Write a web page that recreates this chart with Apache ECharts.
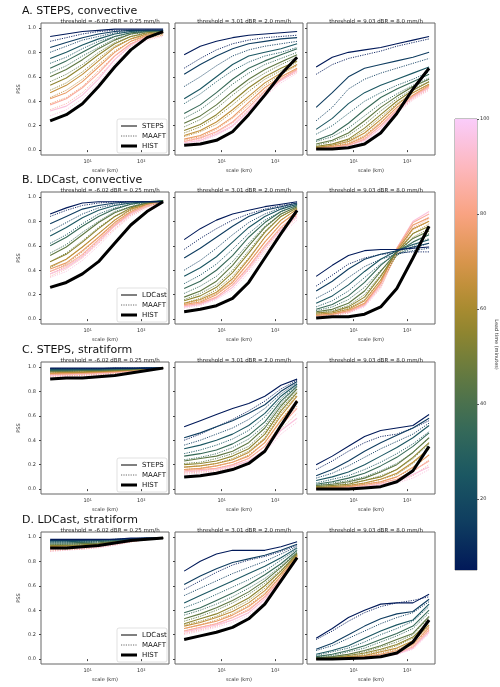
<!DOCTYPE html>
<html>
<head>
<meta charset="utf-8">
<script src="https://cdn.jsdelivr.net/npm/echarts@6/dist/echarts.min.js"></script>
<style>html,body{margin:0;padding:0;background:#fff}#main{width:500px;height:687px}</style>
</head>
<body>
<div id="main"></div>
<script>
var scales = [2, 4, 8, 16, 32, 64, 128, 256];
var leadTimes = [5, 15, 25, 35, 45, 55, 65, 75, 85, 95];
var rowTitles = ['A. STEPS, convective', 'B. LDCast, convective', 'C. STEPS, stratiform', 'D. LDCast, stratiform'];
var rowModels = ['STEPS', 'LDCast', 'STEPS', 'LDCast'];
var colTitles = ['threshold = -6.02 dBR = 0.25 mm/h', 'threshold = 3.01 dBR = 2.0 mm/h', 'threshold = 9.03 dBR = 8.0 mm/h'];
var cbarTicks = [20, 40, 60, 80, 100];

// ---- A. STEPS convective
var A1_model = [
 [0.93,0.95,0.97,0.98,0.99,0.99,0.99,0.99],[0.84,0.88,0.92,0.95,0.97,0.98,0.98,0.98],
 [0.75,0.80,0.86,0.91,0.95,0.97,0.98,0.98],[0.67,0.73,0.80,0.87,0.93,0.96,0.97,0.98],
 [0.60,0.66,0.74,0.83,0.90,0.95,0.97,0.97],[0.53,0.59,0.68,0.78,0.87,0.93,0.96,0.97],
 [0.47,0.53,0.62,0.73,0.84,0.91,0.95,0.96],[0.42,0.47,0.56,0.68,0.80,0.89,0.94,0.96],
 [0.37,0.42,0.51,0.63,0.77,0.87,0.93,0.96],[0.32,0.36,0.45,0.58,0.74,0.86,0.93,0.96]];
var A1_maaft = [
 [0.89,0.92,0.95,0.97,0.98,0.98,0.98,0.98],[0.80,0.85,0.90,0.93,0.96,0.97,0.97,0.97],
 [0.71,0.76,0.83,0.89,0.93,0.96,0.97,0.97],[0.63,0.69,0.77,0.84,0.91,0.95,0.96,0.97],
 [0.56,0.62,0.70,0.80,0.88,0.93,0.95,0.96],[0.49,0.55,0.64,0.75,0.85,0.91,0.94,0.95],
 [0.43,0.49,0.58,0.70,0.81,0.89,0.93,0.95],[0.38,0.43,0.52,0.65,0.77,0.87,0.92,0.94],
 [0.33,0.38,0.47,0.60,0.74,0.85,0.91,0.94],[0.28,0.33,0.42,0.55,0.71,0.83,0.90,0.93]];
var A1_hist = [0.24,0.29,0.38,0.52,0.68,0.82,0.92,0.97];
var A2_model = [
 [0.78,0.85,0.89,0.92,0.94,0.95,0.96,0.97],[0.62,0.70,0.77,0.83,0.87,0.89,0.91,0.92],
 [0.42,0.50,0.60,0.70,0.77,0.80,0.83,0.87],[0.30,0.37,0.47,0.58,0.67,0.73,0.78,0.83],
 [0.22,0.28,0.37,0.48,0.58,0.66,0.72,0.78],[0.16,0.21,0.29,0.40,0.51,0.60,0.67,0.73],
 [0.12,0.16,0.23,0.33,0.44,0.55,0.63,0.70],[0.09,0.12,0.18,0.27,0.39,0.51,0.60,0.67],
 [0.07,0.10,0.15,0.23,0.35,0.48,0.58,0.66],[0.06,0.08,0.13,0.20,0.32,0.46,0.57,0.65]];
var A2_maaft = [
 [0.67,0.75,0.82,0.87,0.90,0.92,0.93,0.94],[0.52,0.60,0.69,0.77,0.82,0.85,0.87,0.89],
 [0.38,0.46,0.56,0.65,0.72,0.77,0.80,0.84],[0.26,0.33,0.43,0.54,0.63,0.70,0.75,0.80],
 [0.19,0.25,0.34,0.45,0.55,0.63,0.70,0.76],[0.14,0.19,0.27,0.37,0.48,0.58,0.65,0.72],
 [0.11,0.15,0.21,0.31,0.42,0.53,0.62,0.69],[0.08,0.11,0.17,0.26,0.37,0.49,0.59,0.66],
 [0.07,0.09,0.14,0.22,0.33,0.46,0.57,0.64],[0.05,0.07,0.12,0.19,0.30,0.44,0.55,0.63]];
var A2_hist = [0.04,0.05,0.08,0.15,0.29,0.45,0.62,0.76];
var A3_model = [
 [0.68,0.76,0.80,0.82,0.84,0.87,0.90,0.93],[0.35,0.47,0.60,0.67,0.70,0.73,0.76,0.80],
 [0.17,0.26,0.38,0.47,0.53,0.58,0.63,0.68],[0.08,0.13,0.22,0.33,0.43,0.50,0.56,0.62],
 [0.05,0.08,0.14,0.24,0.35,0.44,0.52,0.58],[0.03,0.05,0.09,0.18,0.29,0.40,0.49,0.56],
 [0.02,0.04,0.07,0.14,0.25,0.37,0.47,0.54],[0.02,0.03,0.05,0.11,0.22,0.35,0.45,0.53],
 [0.01,0.02,0.04,0.09,0.20,0.33,0.44,0.52],[0.01,0.02,0.04,0.08,0.18,0.32,0.43,0.51]];
var A3_maaft = [
 [0.62,0.70,0.75,0.78,0.81,0.85,0.88,0.91],[0.24,0.35,0.50,0.58,0.63,0.67,0.71,0.75],
 [0.13,0.20,0.30,0.40,0.47,0.53,0.58,0.64],[0.07,0.11,0.18,0.28,0.38,0.46,0.53,0.59],
 [0.04,0.07,0.12,0.21,0.32,0.42,0.50,0.56],[0.03,0.05,0.08,0.16,0.27,0.38,0.47,0.54],
 [0.02,0.03,0.06,0.12,0.23,0.35,0.45,0.52],[0.01,0.03,0.05,0.10,0.20,0.33,0.43,0.51],
 [0.01,0.02,0.04,0.08,0.18,0.31,0.42,0.50],[0.01,0.02,0.03,0.07,0.16,0.30,0.41,0.49]];
var A3_hist = [0.01,0.01,0.02,0.05,0.14,0.30,0.50,0.67];

// ---- B. LDCast convective
var B1_model = [
 [0.86,0.91,0.95,0.96,0.96,0.96,0.96,0.96],[0.78,0.84,0.90,0.93,0.95,0.96,0.96,0.96],
 [0.68,0.75,0.83,0.89,0.93,0.95,0.96,0.96],[0.60,0.67,0.76,0.84,0.90,0.94,0.96,0.97],
 [0.52,0.59,0.69,0.79,0.87,0.92,0.95,0.97],[0.47,0.53,0.63,0.74,0.84,0.91,0.95,0.97],
 [0.43,0.49,0.59,0.70,0.81,0.90,0.94,0.97],[0.41,0.46,0.56,0.67,0.79,0.88,0.94,0.97],
 [0.39,0.44,0.53,0.65,0.77,0.87,0.93,0.97],[0.37,0.42,0.51,0.63,0.76,0.86,0.93,0.97]];
var B1_maaft = [
 [0.84,0.89,0.93,0.95,0.96,0.96,0.96,0.96],[0.72,0.79,0.86,0.91,0.94,0.95,0.96,0.96],
 [0.62,0.69,0.78,0.86,0.91,0.94,0.95,0.96],[0.54,0.61,0.71,0.80,0.88,0.92,0.95,0.96],
 [0.47,0.54,0.64,0.75,0.84,0.90,0.94,0.96],[0.42,0.49,0.59,0.70,0.81,0.89,0.93,0.96],
 [0.39,0.45,0.55,0.67,0.78,0.87,0.93,0.96],[0.37,0.43,0.52,0.64,0.76,0.86,0.92,0.96],
 [0.35,0.41,0.50,0.62,0.74,0.85,0.92,0.96],[0.34,0.39,0.48,0.60,0.73,0.84,0.91,0.96]];
var B1_hist = [0.26,0.30,0.37,0.47,0.62,0.77,0.88,0.96];
var B2_model = [
 [0.65,0.74,0.81,0.86,0.89,0.92,0.94,0.96],[0.50,0.58,0.67,0.76,0.84,0.89,0.92,0.95],
 [0.35,0.42,0.51,0.63,0.75,0.84,0.90,0.94],[0.25,0.31,0.40,0.52,0.67,0.79,0.88,0.93],
 [0.18,0.23,0.31,0.44,0.60,0.75,0.86,0.92],[0.15,0.19,0.26,0.38,0.54,0.71,0.84,0.91],
 [0.13,0.16,0.22,0.33,0.49,0.67,0.81,0.90],[0.12,0.14,0.20,0.30,0.46,0.63,0.78,0.88],
 [0.11,0.13,0.18,0.28,0.43,0.60,0.75,0.86],[0.10,0.12,0.17,0.26,0.41,0.58,0.73,0.84]];
var B2_maaft = [
 [0.57,0.66,0.74,0.81,0.86,0.90,0.93,0.95],[0.40,0.48,0.58,0.69,0.79,0.86,0.91,0.94],
 [0.29,0.36,0.45,0.57,0.70,0.81,0.88,0.93],[0.21,0.27,0.35,0.47,0.62,0.76,0.86,0.92],
 [0.16,0.21,0.28,0.40,0.56,0.72,0.84,0.91],[0.13,0.17,0.24,0.35,0.50,0.67,0.81,0.90],
 [0.12,0.15,0.21,0.31,0.46,0.63,0.78,0.88],[0.11,0.13,0.18,0.28,0.42,0.59,0.74,0.85],
 [0.10,0.12,0.17,0.26,0.40,0.56,0.71,0.83],[0.09,0.11,0.16,0.24,0.38,0.54,0.69,0.81]];
var B2_hist = [0.06,0.08,0.11,0.17,0.30,0.50,0.70,0.89];
var B3_model = [
 [0.35,0.44,0.52,0.56,0.57,0.57,0.58,0.59],[0.23,0.31,0.41,0.49,0.53,0.56,0.59,0.62],
 [0.13,0.19,0.28,0.39,0.49,0.56,0.61,0.65],[0.08,0.12,0.19,0.30,0.44,0.55,0.63,0.69],
 [0.06,0.08,0.13,0.23,0.39,0.55,0.66,0.72],[0.05,0.06,0.10,0.18,0.35,0.55,0.70,0.76],
 [0.04,0.05,0.08,0.15,0.32,0.56,0.74,0.80],[0.03,0.04,0.07,0.13,0.30,0.57,0.77,0.83],
 [0.03,0.04,0.06,0.12,0.29,0.58,0.79,0.86],[0.03,0.04,0.06,0.11,0.28,0.58,0.80,0.88]];
var B3_maaft = [
 [0.27,0.36,0.45,0.50,0.53,0.54,0.55,0.55],[0.17,0.24,0.34,0.43,0.49,0.53,0.56,0.58],
 [0.10,0.15,0.23,0.34,0.45,0.53,0.58,0.62],[0.07,0.10,0.16,0.26,0.40,0.52,0.60,0.66],
 [0.05,0.07,0.11,0.20,0.36,0.52,0.63,0.70],[0.04,0.05,0.09,0.16,0.32,0.52,0.67,0.74],
 [0.03,0.04,0.07,0.13,0.29,0.53,0.70,0.78],[0.03,0.04,0.06,0.12,0.27,0.54,0.73,0.80],
 [0.02,0.03,0.05,0.11,0.26,0.54,0.75,0.82],[0.02,0.03,0.05,0.10,0.25,0.55,0.76,0.84]];
var B3_hist = [0.01,0.02,0.02,0.04,0.10,0.25,0.50,0.76];

// ---- C. STEPS stratiform
var C1_model = [
 [0.99,0.99,0.99,0.99,0.99,0.99,0.99,0.99],[0.985,0.985,0.985,0.985,0.99,0.99,0.99,0.99],
 [0.98,0.98,0.98,0.98,0.985,0.985,0.99,0.99],[0.97,0.97,0.975,0.975,0.98,0.985,0.99,0.99],
 [0.965,0.965,0.97,0.97,0.975,0.98,0.985,0.99],[0.96,0.96,0.96,0.965,0.97,0.975,0.985,0.99],
 [0.95,0.955,0.955,0.96,0.965,0.975,0.985,0.99],[0.945,0.945,0.95,0.955,0.96,0.97,0.98,0.99],
 [0.94,0.94,0.945,0.95,0.955,0.965,0.98,0.99],[0.93,0.935,0.94,0.945,0.955,0.965,0.98,0.99]];
var C1_maaft = [
 [0.985,0.985,0.985,0.985,0.99,0.99,0.99,0.99],[0.975,0.975,0.98,0.98,0.985,0.985,0.99,0.99],
 [0.97,0.97,0.97,0.975,0.98,0.985,0.99,0.99],[0.96,0.96,0.965,0.97,0.975,0.98,0.985,0.99],
 [0.95,0.955,0.955,0.96,0.97,0.975,0.985,0.99],[0.945,0.945,0.95,0.955,0.965,0.97,0.98,0.99],
 [0.935,0.94,0.94,0.95,0.955,0.965,0.98,0.99],[0.93,0.93,0.935,0.94,0.95,0.965,0.98,0.99],
 [0.92,0.925,0.93,0.935,0.945,0.96,0.975,0.99],[0.915,0.92,0.92,0.93,0.94,0.955,0.975,0.99]];
var C1_hist = [0.90,0.91,0.91,0.92,0.93,0.95,0.97,0.99];
var C2_model = [
 [0.51,0.56,0.61,0.66,0.70,0.76,0.85,0.90],[0.42,0.46,0.51,0.56,0.62,0.69,0.80,0.88],
 [0.33,0.36,0.40,0.45,0.52,0.62,0.76,0.86],[0.27,0.29,0.32,0.37,0.44,0.55,0.72,0.84],
 [0.23,0.25,0.27,0.31,0.38,0.50,0.68,0.82],[0.20,0.21,0.23,0.27,0.33,0.45,0.64,0.79],
 [0.18,0.19,0.21,0.24,0.30,0.41,0.60,0.76],[0.16,0.17,0.19,0.22,0.27,0.38,0.56,0.72],
 [0.15,0.16,0.17,0.20,0.25,0.35,0.52,0.66],[0.14,0.15,0.16,0.19,0.23,0.32,0.48,0.58]];
var C2_maaft = [
 [0.40,0.45,0.51,0.57,0.64,0.72,0.82,0.89],[0.36,0.40,0.45,0.50,0.57,0.66,0.78,0.87],
 [0.29,0.32,0.36,0.41,0.48,0.59,0.74,0.85],[0.24,0.26,0.29,0.34,0.41,0.52,0.70,0.83],
 [0.21,0.22,0.25,0.29,0.35,0.47,0.66,0.80],[0.18,0.19,0.21,0.25,0.31,0.42,0.62,0.77],
 [0.16,0.17,0.19,0.22,0.28,0.38,0.57,0.73],[0.14,0.15,0.17,0.20,0.25,0.35,0.53,0.68],
 [0.13,0.14,0.15,0.18,0.23,0.32,0.49,0.62],[0.12,0.13,0.14,0.17,0.21,0.30,0.45,0.55]];
var C2_hist = [0.10,0.11,0.13,0.16,0.21,0.31,0.52,0.72];
var C3_model = [
 [0.20,0.27,0.35,0.43,0.48,0.50,0.52,0.61],[0.11,0.16,0.23,0.31,0.38,0.44,0.50,0.58],
 [0.07,0.10,0.14,0.20,0.27,0.34,0.42,0.52],[0.04,0.06,0.09,0.13,0.19,0.26,0.35,0.46],
 [0.03,0.04,0.06,0.09,0.14,0.20,0.30,0.42],[0.02,0.03,0.04,0.07,0.10,0.16,0.26,0.38],
 [0.01,0.02,0.03,0.05,0.08,0.13,0.22,0.33],[0.01,0.01,0.02,0.04,0.06,0.10,0.18,0.28],
 [0.01,0.01,0.02,0.03,0.05,0.08,0.15,0.23],[0.00,0.01,0.01,0.02,0.04,0.06,0.12,0.18]];
var C3_maaft = [
 [0.16,0.23,0.31,0.38,0.43,0.45,0.50,0.56],[0.09,0.13,0.19,0.26,0.33,0.39,0.45,0.54],
 [0.05,0.08,0.11,0.16,0.22,0.29,0.37,0.47],[0.03,0.05,0.07,0.10,0.15,0.21,0.30,0.42],
 [0.02,0.03,0.05,0.07,0.11,0.16,0.25,0.37],[0.01,0.02,0.03,0.05,0.08,0.12,0.21,0.33],
 [0.01,0.01,0.02,0.04,0.06,0.10,0.17,0.28],[0.01,0.01,0.02,0.03,0.05,0.08,0.14,0.24],
 [0.00,0.01,0.01,0.02,0.04,0.06,0.11,0.20],[0.00,0.00,0.01,0.02,0.03,0.05,0.09,0.16]];
var C3_hist = [0.00,0.00,0.00,0.01,0.02,0.06,0.15,0.35];

// ---- D. LDCast stratiform
var D1_model = [
 [0.98,0.98,0.98,0.98,0.98,0.99,0.99,0.99],[0.97,0.97,0.97,0.975,0.98,0.985,0.99,0.99],
 [0.96,0.96,0.965,0.97,0.975,0.98,0.99,0.99],[0.95,0.95,0.955,0.96,0.97,0.98,0.985,0.99],
 [0.94,0.94,0.945,0.95,0.965,0.975,0.985,0.99],[0.93,0.93,0.935,0.945,0.96,0.97,0.985,0.99],
 [0.92,0.925,0.93,0.94,0.955,0.97,0.98,0.99],[0.915,0.915,0.92,0.93,0.95,0.965,0.98,0.99],
 [0.905,0.91,0.915,0.925,0.945,0.965,0.98,0.99],[0.90,0.905,0.91,0.92,0.94,0.96,0.98,0.99]];
var D1_maaft = [
 [0.97,0.97,0.97,0.975,0.98,0.985,0.99,0.99],[0.96,0.96,0.96,0.965,0.975,0.98,0.985,0.99],
 [0.95,0.95,0.95,0.96,0.97,0.975,0.985,0.99],[0.935,0.94,0.94,0.95,0.96,0.97,0.985,0.99],
 [0.925,0.93,0.93,0.94,0.955,0.97,0.98,0.99],[0.915,0.92,0.92,0.93,0.95,0.965,0.98,0.99],
 [0.905,0.91,0.915,0.925,0.945,0.96,0.98,0.99],[0.895,0.90,0.905,0.92,0.94,0.96,0.98,0.99],
 [0.885,0.895,0.90,0.915,0.935,0.96,0.98,0.99],[0.88,0.89,0.90,0.91,0.93,0.96,0.98,0.99]];
var D1_hist = [0.91,0.91,0.92,0.93,0.95,0.97,0.98,0.99];
var D2_model = [
 [0.72,0.80,0.86,0.89,0.89,0.89,0.92,0.96],[0.61,0.68,0.74,0.79,0.82,0.85,0.89,0.94],
 [0.46,0.52,0.58,0.64,0.70,0.76,0.83,0.91],[0.38,0.42,0.48,0.54,0.61,0.69,0.78,0.89],
 [0.33,0.37,0.42,0.48,0.55,0.64,0.75,0.87],[0.29,0.33,0.37,0.43,0.50,0.60,0.72,0.86],
 [0.27,0.30,0.34,0.39,0.46,0.56,0.70,0.85],[0.25,0.28,0.31,0.36,0.43,0.53,0.68,0.84],
 [0.23,0.26,0.29,0.34,0.40,0.51,0.66,0.83],[0.22,0.25,0.28,0.32,0.38,0.49,0.65,0.82]];
var D2_maaft = [
 [0.57,0.64,0.71,0.77,0.81,0.84,0.88,0.93],[0.52,0.58,0.64,0.70,0.75,0.80,0.86,0.92],
 [0.42,0.47,0.53,0.59,0.65,0.72,0.81,0.90],[0.36,0.40,0.45,0.51,0.58,0.66,0.76,0.88],
 [0.31,0.35,0.40,0.46,0.53,0.62,0.73,0.86],[0.28,0.31,0.35,0.41,0.48,0.58,0.70,0.85],
 [0.25,0.28,0.32,0.37,0.44,0.54,0.68,0.84],[0.23,0.26,0.29,0.34,0.41,0.51,0.66,0.83],
 [0.21,0.24,0.27,0.32,0.38,0.49,0.64,0.82],[0.20,0.23,0.26,0.30,0.36,0.47,0.63,0.81]];
var D2_hist = [0.16,0.19,0.22,0.26,0.33,0.45,0.64,0.83];
var D3_model = [
 [0.17,0.25,0.34,0.40,0.45,0.46,0.46,0.53],[0.08,0.13,0.20,0.27,0.33,0.37,0.39,0.49],
 [0.04,0.07,0.11,0.17,0.23,0.28,0.32,0.45],[0.02,0.04,0.07,0.11,0.16,0.21,0.27,0.40],
 [0.01,0.02,0.04,0.07,0.11,0.16,0.21,0.35],[0.01,0.01,0.03,0.05,0.08,0.12,0.18,0.31],
 [0.00,0.01,0.02,0.03,0.06,0.09,0.15,0.28],[0.00,0.01,0.01,0.02,0.04,0.07,0.12,0.26],
 [0.00,0.00,0.01,0.02,0.03,0.05,0.10,0.24],[0.00,0.00,0.01,0.01,0.02,0.04,0.09,0.22]];
var D3_maaft = [
 [0.16,0.23,0.31,0.38,0.43,0.46,0.48,0.51],[0.07,0.11,0.17,0.23,0.29,0.34,0.38,0.47],
 [0.03,0.06,0.09,0.14,0.20,0.25,0.31,0.43],[0.02,0.03,0.06,0.09,0.14,0.19,0.25,0.38],
 [0.01,0.02,0.04,0.06,0.10,0.14,0.20,0.34],[0.00,0.01,0.02,0.04,0.07,0.11,0.17,0.30],
 [0.00,0.01,0.01,0.03,0.05,0.08,0.14,0.27],[0.00,0.00,0.01,0.02,0.04,0.06,0.11,0.25],
 [0.00,0.00,0.01,0.01,0.03,0.05,0.09,0.23],[0.00,0.00,0.00,0.01,0.02,0.04,0.08,0.21]];
var D3_hist = [0.00,0.00,0.005,0.01,0.02,0.05,0.14,0.32];

var panels = [
 [[A1_model, A1_maaft, A1_hist], [A2_model, A2_maaft, A2_hist], [A3_model, A3_maaft, A3_hist]],
 [[B1_model, B1_maaft, B1_hist], [B2_model, B2_maaft, B2_hist], [B3_model, B3_maaft, B3_hist]],
 [[C1_model, C1_maaft, C1_hist], [C2_model, C2_maaft, C2_hist], [C3_model, C3_maaft, C3_hist]],
 [[D1_model, D1_maaft, D1_hist], [D2_model, D2_maaft, D2_hist], [D3_model, D3_maaft, D3_hist]]
];

// batlow-like colormap
var cmapStops = ['#011959', '#103f60', '#1c5a62', '#3c6d56', '#687b3e', '#9d892b', '#d29343', '#f8a17b', '#fdb7bc', '#faccfa'];
var cMin = 5, cMax = 100;
function hexToRgb(h) { return [parseInt(h.substr(1, 2), 16), parseInt(h.substr(3, 2), 16), parseInt(h.substr(5, 2), 16)]; }
function leadColor(v) {
    var t = (v - cMin) / (cMax - cMin) * (cmapStops.length - 1);
    var i = Math.min(Math.floor(t), cmapStops.length - 2), f = t - i;
    var a = hexToRgb(cmapStops[i]), b = hexToRgb(cmapStops[i + 1]);
    return 'rgb(' + a.map(function (c, k) { return Math.round(c + (b[k] - c) * f); }).join(',') + ')';
}

var myChart = echarts.init(document.getElementById('main'));
var lefts = [41, 175, 307], tops = [23, 192, 362, 532];
var pw = 128, ph = 132;
var grids = [], xAxes = [], yAxes = [], series = [], titles = [], graphics = [];
function pair(arr) { return scales.map(function (s, i) { return [s, arr[i]]; }); }

// legend box drawn as graphic (one per row, in first column)
function legendBox(x, y, model) {
    var items = [
        { label: model, stroke: '#000', w: 1, dash: null },
        { label: 'MAAFT', stroke: '#444', w: 0.8, dash: [1.2, 1.2] },
        { label: 'HIST', stroke: '#000', w: 3, dash: null }
    ];
    var ch = [{ type: 'rect', shape: { x: 0, y: 0, width: 50, height: 34, r: 2 },
        style: { fill: 'rgba(255,255,255,0.9)', stroke: '#ccc', lineWidth: 0.6 } }];
    items.forEach(function (it, i) {
        var yy = 7 + i * 10;
        ch.push({ type: 'line', shape: { x1: 4, y1: yy, x2: 20, y2: yy }, style: { stroke: it.stroke, lineWidth: it.w, lineDash: it.dash } });
        ch.push({ type: 'text', x: 25, y: yy, style: { text: it.label, fontSize: 7, fill: '#111', verticalAlign: 'middle', fontFamily: 'DejaVu Sans' } });
    });
    return { type: 'group', x: x, y: y, z: 100, children: ch };
}

for (var r = 0; r < 4; r++) {
    titles.push({ text: rowTitles[r], left: 17, top: tops[r] - 22, textStyle: { fontSize: 11, fontWeight: 'normal', color: '#111', fontFamily: 'DejaVu Sans' } });
    for (var c = 0; c < 3; c++) {
        var g = grids.length;
        grids.push({ left: lefts[c], top: tops[r], width: pw, height: ph, show: true, borderColor: '#666', borderWidth: 1, backgroundColor: '#fff' });
        titles.push({ text: colTitles[c], left: lefts[c] + pw / 2, top: tops[r] - 9, textAlign: 'center', textStyle: { fontSize: 5.5, fontWeight: 'normal', color: '#222', fontFamily: 'DejaVu Sans' } });
        xAxes.push({ gridIndex: g, type: 'log', min: 1.35, max: 330, name: 'scale (km)', nameLocation: 'middle', nameGap: 13,
            nameTextStyle: { fontSize: 5, color: '#333' }, axisLine: { show: false }, splitLine: { show: false },
            axisTick: { length: 2, lineStyle: { color: '#444' } },
            axisLabel: { fontSize: 5, color: '#333', margin: 4, showMinLabel: false, showMaxLabel: false,
                formatter: function (v) { return v === 10 ? '10¹' : (v === 100 ? '10²' : ''); } } });
        yAxes.push({ gridIndex: g, type: 'value', min: -0.04, max: 1.04, name: c === 0 ? 'PSS' : '', nameLocation: 'middle', nameGap: 20,
            nameTextStyle: { fontSize: 5, color: '#333' }, axisLine: { show: false }, splitLine: { show: false },
            axisTick: { show: true, length: 2, customValues: [0, 0.2, 0.4, 0.6, 0.8, 1.0], lineStyle: { color: '#444' } },
            axisLabel: { show: c === 0, fontSize: 5, color: '#333', margin: 5, customValues: [0, 0.2, 0.4, 0.6, 0.8, 1.0],
                formatter: function (v) { return v.toFixed(1); } } });
        var p = panels[r][c];
        for (var m = 1; m >= 0; m--) {
            for (var k = leadTimes.length - 1; k >= 0; k--) {
                series.push({ name: (m ? 'maaft' : 'model') + '_' + g + '_' + leadTimes[k], type: 'line', xAxisIndex: g, yAxisIndex: g,
                    data: pair(p[m][k]), showSymbol: false, silent: true, smooth: false,
                    lineStyle: { color: leadColor(leadTimes[k]), width: m ? 0.9 : 1.1, type: m ? [1.2, 1.2] : 'solid' } });
            }
        }
        series.push({ name: 'HIST', type: 'line', xAxisIndex: g, yAxisIndex: g, data: pair(p[2]), showSymbol: false, silent: true, z: 5,
            lineStyle: { color: '#000', width: 3 } });
        if (c === 0) graphics.push(legendBox(lefts[c] + pw - 52, tops[r] + ph - 36, rowModels[r]));
    }
}

// colorbar
var cb = grids.length;
grids.push({ left: 455, top: 119, width: 22, height: 451, show: true, borderColor: '#666', borderWidth: 0.8 });
xAxes.push({ gridIndex: cb, type: 'category', data: ['cb'], show: false });
yAxes.push({ gridIndex: cb, type: 'value', min: cMin, max: cMax, position: 'right', splitLine: { show: false },
    name: 'Lead time (minutes)', nameLocation: 'middle', nameGap: 17, nameRotate: -90, nameTextStyle: { fontSize: 5, color: '#333' },
    axisLine: { show: false }, axisTick: { show: true, length: 2, customValues: cbarTicks },
    axisLabel: { fontSize: 5, color: '#333', margin: 3, customValues: cbarTicks } });
var gradStops = [];
for (var s = 0; s <= 19; s++) { var v = cMax - s * (cMax - cMin) / 19; gradStops.push({ offset: s / 19, color: leadColor(v) }); }
series.push({ name: 'colorbar', type: 'bar', xAxisIndex: cb, yAxisIndex: cb, data: [cMax], barWidth: '100%', silent: true,
    itemStyle: { color: new echarts.graphic.LinearGradient(0, 0, 0, 1, gradStops) } });

var option = {
    backgroundColor: '#fff',
    animation: false,
    textStyle: { fontFamily: 'DejaVu Sans' },
    title: titles, grid: grids, xAxis: xAxes, yAxis: yAxes, series: series, graphic: graphics
};
myChart.setOption(option);
</script>
</body>
</html>
